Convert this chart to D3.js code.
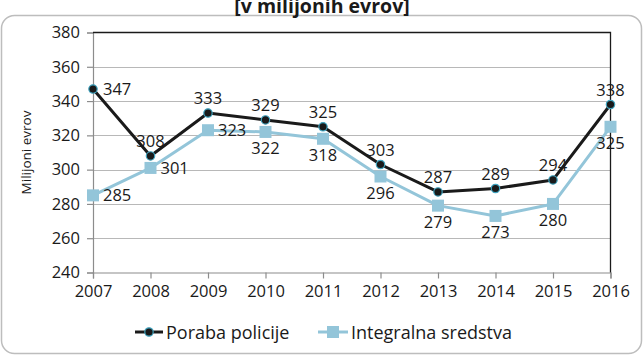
<!DOCTYPE html>
<html>
<head>
<meta charset="utf-8">
<script src="https://cdn.jsdelivr.net/npm/d3@7"></script>
<style>
  html, body { margin: 0; padding: 0; background: #fff; }
  svg { display: block; font-family: "Open Sans", "Liberation Sans", sans-serif; }
</style>
</head>
<body>
<svg id="chart" width="643" height="356"></svg>
<script>
// Years on the category axis
const years = ["2007", "2008", "2009", "2010", "2011", "2012", "2013", "2014", "2015", "2016"];
// Police expenditure, million EUR
const porabaPolicije = [347, 308, 333, 329, 325, 303, 287, 289, 294, 338];
// Integral funds, million EUR
const integralnaSredstva = [285, 301, 323, 322, 318, 296, 279, 273, 280, 325];
// Value axis ticks
const yTicks = [240, 260, 280, 300, 320, 340, 360, 380];

// Label placement for each point: "r" right, "t" top, "b" bottom
const porabaPos = ["r", "t", "t", "t", "t", "t", "t", "t", "t", "t"];
const integralnaPos = ["r", "r", "r", "b", "b", "b", "b", "b", "b", "b"];

const svg = d3.select("#chart");
const W = 643, H = 356;
const plot = { left: 93, right: 610.5, top: 32.5, bottom: 272.5 };

// Outer chart frame
svg.append("rect")
  .attr("x", 1.5).attr("y", 15.5)
  .attr("width", W - 3).attr("height", 338)
  .attr("rx", 13).attr("ry", 13)
  .attr("fill", "#fff").attr("stroke", "#bdbdbd").attr("stroke-width", 1.5);

// Title, sitting on the top edge of the frame
svg.append("text")
  .attr("x", 322).attr("y", 12.5)
  .attr("text-anchor", "middle")
  .attr("font-size", 19.5).attr("font-weight", "bold")
  .attr("fill", "#1a1a1a")
  .text("[v milijonih evrov]");

const x = d3.scalePoint().domain(years).range([plot.left, plot.right]);
const y = d3.scaleLinear().domain([240, 380]).range([plot.bottom, plot.top]);

// Horizontal gridlines
svg.append("g").selectAll("line")
  .data(yTicks.filter(v => v > 240 && v < 380))
  .join("line")
  .attr("x1", plot.left).attr("x2", plot.right)
  .attr("y1", d => Math.round(y(d)) + 0.5).attr("y2", d => Math.round(y(d)) + 0.5)
  .attr("stroke", "#b8b8b8").attr("stroke-width", 1.2);

// Y axis
const yAxis = svg.append("g")
  .attr("transform", `translate(${plot.left},0)`)
  .call(d3.axisLeft(y).tickValues(yTicks).tickSize(6).tickPadding(7).tickFormat(d3.format("d")));
yAxis.select(".domain").attr("stroke", "#8c8c8c").attr("stroke-width", 1.2);
yAxis.selectAll(".tick line").attr("stroke", "#8c8c8c").attr("stroke-width", 1.2);
yAxis.selectAll(".tick text").attr("font-size", 16.5).attr("fill", "#1a1a1a")
  .attr("font-family", "Open Sans, sans-serif");

// X axis
const xAxis = svg.append("g")
  .attr("transform", `translate(0,${plot.bottom})`)
  .call(d3.axisBottom(x).tickSize(6).tickPadding(7));
xAxis.select(".domain").attr("stroke", "#8c8c8c").attr("stroke-width", 1.2);
xAxis.selectAll(".tick line").attr("stroke", "#8c8c8c").attr("stroke-width", 1.2);
xAxis.selectAll(".tick text").attr("font-size", 16.5).attr("fill", "#1a1a1a")
  .attr("font-family", "Open Sans, sans-serif");

// Plot area border on top and right
svg.append("path")
  .attr("d", `M${plot.left},${plot.top}H${plot.right}V${plot.bottom}`)
  .attr("fill", "none").attr("stroke", "#1a1a1a").attr("stroke-width", 1.3);

// Y axis title
svg.append("text")
  .attr("transform", `translate(31,${(plot.top + plot.bottom) / 2}) rotate(-90)`)
  .attr("text-anchor", "middle")
  .attr("font-size", 13.5).attr("fill", "#1a1a1a")
  .text("Milijoni evrov");

const line = d3.line().x(d => x(d.year)).y(d => y(d.v));
const porabaData = years.map((yr, i) => ({ year: yr, v: porabaPolicije[i], pos: porabaPos[i] }));
const integralnaData = years.map((yr, i) => ({ year: yr, v: integralnaSredstva[i], pos: integralnaPos[i] }));

const lightBlue = "#93c5d9";
const dark = "#1a1a1a";
const ring = "#3fa3bf";

// Integral funds series
svg.append("path").datum(integralnaData)
  .attr("d", line).attr("fill", "none")
  .attr("stroke", lightBlue).attr("stroke-width", 3).attr("stroke-linejoin", "round");
svg.append("g").selectAll("rect").data(integralnaData).join("rect")
  .attr("x", d => x(d.year) - 6).attr("y", d => y(d.v) - 6)
  .attr("width", 12).attr("height", 12).attr("fill", lightBlue);

// Police expenditure series
svg.append("path").datum(porabaData)
  .attr("d", line).attr("fill", "none")
  .attr("stroke", dark).attr("stroke-width", 3).attr("stroke-linejoin", "round");
svg.append("g").selectAll("circle").data(porabaData).join("circle")
  .attr("cx", d => x(d.year)).attr("cy", d => y(d.v)).attr("r", 4.2)
  .attr("fill", dark).attr("stroke", ring).attr("stroke-width", 1.2);

// Data labels
function addLabels(data) {
  svg.append("g").selectAll("text").data(data).join("text")
    .attr("font-size", 16.5).attr("fill", "#1a1a1a")
    .attr("text-anchor", d => d.pos === "r" ? "start" : "middle")
    .attr("x", d => d.pos === "r" ? x(d.year) + 10 : x(d.year))
    .attr("y", d => d.pos === "r" ? y(d.v) + 6 : d.pos === "t" ? y(d.v) - 9 : y(d.v) + 22)
    .text(d => d.v);
}
addLabels(porabaData);
addLabels(integralnaData);

// Legend
const legend = svg.append("g");
const lgY = 332;
legend.append("line").attr("x1", 135).attr("x2", 163).attr("y1", lgY).attr("y2", lgY)
  .attr("stroke", dark).attr("stroke-width", 3);
legend.append("circle").attr("cx", 149).attr("cy", lgY).attr("r", 4.2)
  .attr("fill", dark).attr("stroke", ring).attr("stroke-width", 1.2);
legend.append("text").attr("x", 166).attr("y", lgY + 6.5)
  .attr("font-size", 18).attr("fill", "#1a1a1a").text("Poraba policije");
legend.append("line").attr("x1", 318).attr("x2", 348).attr("y1", lgY).attr("y2", lgY)
  .attr("stroke", lightBlue).attr("stroke-width", 3);
legend.append("rect").attr("x", 327).attr("y", lgY - 6).attr("width", 12).attr("height", 12)
  .attr("fill", lightBlue);
legend.append("text").attr("x", 351).attr("y", lgY + 6.5)
  .attr("font-size", 18).attr("fill", "#1a1a1a").text("Integralna sredstva");
</script>
</body>
</html>
